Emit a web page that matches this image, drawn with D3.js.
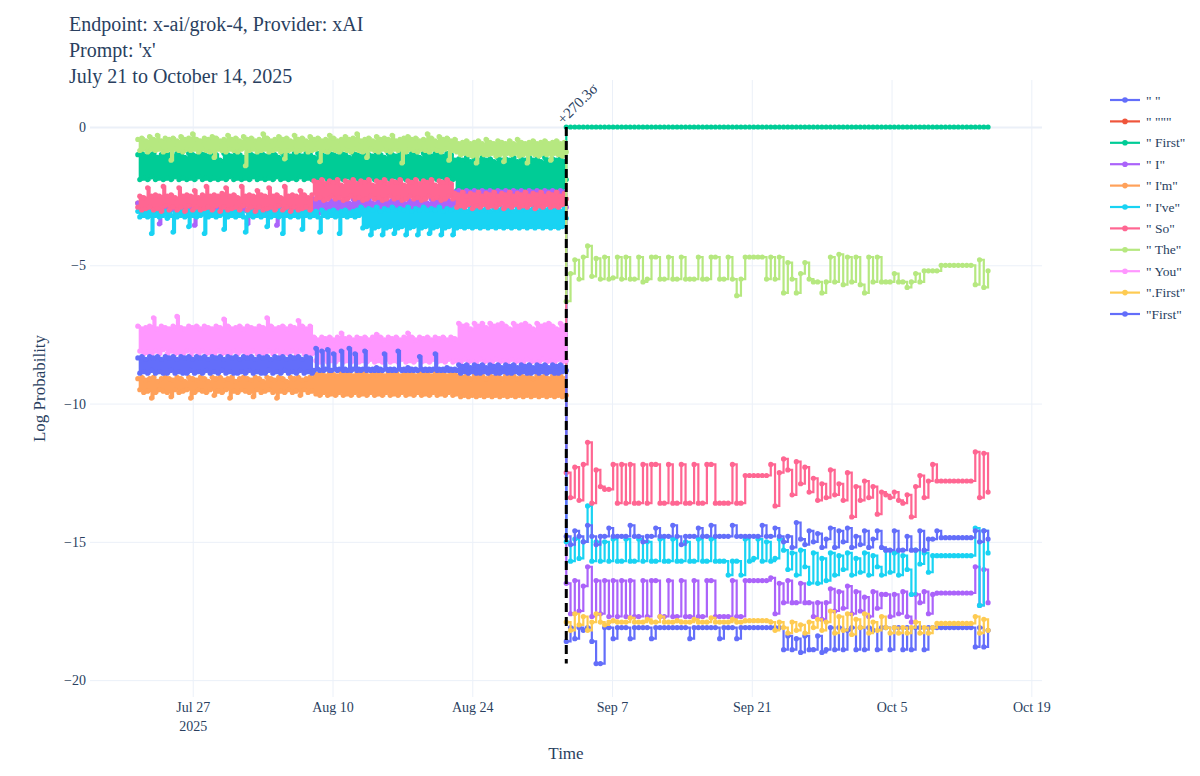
<!DOCTYPE html>
<html>
<head>
<meta charset="utf-8">
<script src="https://cdn.jsdelivr.net/npm/d3@7"></script>
<style>
  body { margin: 0; background: #fff; }
  svg { font-family: "Liberation Serif", "Times New Roman", serif; }
</style>
</head>
<body>
<svg id="viz" width="1200" height="776"></svg>
<script>
// ---------------------------
// Data
// ---------------------------

const titleLines = ["Endpoint: x-ai/grok-4, Provider: xAI", "Prompt: 'x'", "July 21 to October 14, 2025"];

const preStart = new Date("2025-07-21T12:00:00");
const changeTime = new Date("2025-09-02T10:00:00");
const postEnd = new Date("2025-10-14T16:00:00");
const preCount = 220;
const postCount = 100;

const xTickDates = ["2025-07-27", "2025-08-10", "2025-08-24", "2025-09-07", "2025-09-21", "2025-10-05", "2025-10-19"];
const yTickValues = [0, -5, -10, -15, -20];
const sigmaLabel = "+270.3σ";

const quotePre = [-2.75,-2.8,-2.75,-2.8,-2.75];

const firstSpPre = [
-1.0,-1.9,-0.95,-1.85,-1.05,-1.9,-1.0,-1.8,-0.95,-1.9,
-1.1,-1.85,-1.0,-1.9,-0.95,-1.85,-1.0,-1.9,-1.05,-1.8,
-0.95,-1.9,-1.0,-1.85,-1.1,-1.9,-0.95,-1.85,-1.0,-1.9,
-1.05,-1.8,-0.95,-1.9,-1.0,-1.85,-1.05,-1.9,-0.95,-1.85,
-1.0,-1.9,-1.2,-1.85,-0.95,-1.9,-1.0,-1.8,-1.05,-1.9,
-0.95,-1.85,-1.0,-1.9,-1.1,-1.85,-0.95,-1.9,-1.0,-1.8,
-1.05,-1.9,-0.95,-1.85,-1.0,-1.9,-1.05,-1.85,-0.95,-1.9,
-1.0,-1.8,-1.1,-1.9,-0.95,-1.85,-1.0,-1.9,-1.05,-1.85,
-0.95,-1.9,-1.0,-1.8,-1.05,-1.9,-0.95,-1.85,-1.0,-1.9,
-1.1,-1.85,-0.95,-1.9,-1.0,-1.8,-1.05,-1.9,-0.95,-1.85,
-1.0,-1.9,-1.05,-1.85,-0.95,-1.9,-1.0,-1.8,-1.1,-1.9,
-0.95,-1.85,-1.0,-1.9,-1.05,-1.85,-0.95,-1.9,-1.0,-1.8,
-1.05,-1.9,-0.95,-1.85,-1.0,-1.9,-1.1,-1.85,-0.95,-1.9,
-1.0,-1.8,-1.05,-1.9,-0.95,-1.85,-1.0,-1.9,-1.05,-1.85,
-0.95,-1.9,-1.0,-1.8,-1.1,-1.9,-0.95,-1.85,-1.0,-1.9,
-1.05,-1.85,-0.95,-1.9,-1.0,-1.8,-1.05,-1.9,-0.95,-1.85,
-1.0,-1.9,-1.2,-2.3,-1.15,-2.25,-1.2,-2.3,-1.1,-2.2,
-1.25,-2.3,-1.15,-2.25,-1.2,-2.3,-1.1,-2.25,-1.2,-2.3,
-1.15,-2.2,-1.25,-2.3,-1.1,-2.25,-1.2,-2.3,-1.15,-2.25,
-1.2,-2.3,-1.1,-2.2,-1.25,-2.3,-1.15,-2.25,-1.2,-2.3,
-1.1,-2.25,-1.2,-2.3,-1.15,-2.2,-1.25,-2.3,-1.1,-2.25,
-1.2,-2.3,-1.15,-2.25,-1.2,-2.3,-1.1,-2.2,-1.25,-1.9];
const firstSpPost = [
0,0,0,0,0,0,0,0,0,0, 0,0,0,0,0,0,0,0,0,0,
0,0,0,0,0,0,0,0,0,0, 0,0,0,0,0,0,0,0,0,0,
0,0,0,0,0,0,0,0,0,0, 0,0,0,0,0,0,0,0,0,0,
0,0,0,0,0,0,0,0,0,0, 0,0,0,0,0,0,0,0,0,0,
0,0,0,0,0,0,0,0,0,0, 0,0,0,0,0,0,0,0,0,0];

const iPre = [
-2.75,-2.8,-2.75,-2.8,-2.75,-3.0,-2.8,-3.1,-2.85,-3.0,
-2.8,-3.5,-2.9,-3.0,-2.8,-3.1,-2.9,-3.0,-2.85,-3.2,
-2.9,-3.0,-2.8,-3.1,-2.9,-3.0,-2.85,-3.1,-2.9,-3.55,
-2.95,-3.0,-2.8,-3.1,-2.9,-3.0,-2.85,-3.2,-2.9,-3.0,
-2.8,-3.1,-2.9,-3.0,-2.85,-3.1,-2.9,-3.0,-2.8,-3.1,
-2.9,-3.0,-2.85,-3.2,-2.9,-3.0,-3.5,-3.1,-2.9,-3.0,
-2.85,-3.1,-2.9,-3.0,-2.8,-3.1,-2.9,-3.0,-2.85,-3.1,
-2.9,-3.55,-2.9,-3.0,-2.8,-3.1,-2.9,-3.0,-2.85,-3.2,
-2.9,-3.0,-2.8,-3.1,-2.9,-3.0,-2.85,-3.1,-2.9,-3.0,
-2.6,-3.0,-2.7,-3.1,-2.6,-3.0,-2.75,-3.05,-2.6,-3.0,
-2.7,-3.1,-2.65,-3.0,-2.7,-3.1,-2.6,-3.0,-2.75,-3.05,
-2.6,-3.0,-2.7,-3.1,-2.65,-3.0,-2.7,-3.1,-2.6,-3.0,
-2.75,-3.05,-2.6,-3.0,-2.7,-3.1,-2.6,-3.0,-2.7,-3.1,
-2.65,-3.0,-2.7,-3.1,-2.6,-3.0,-2.75,-3.05,-2.6,-3.0,
-2.7,-3.1,-2.65,-3.0,-2.7,-3.1,-2.6,-3.0,-2.75,-3.05,
-2.6,-3.0,-2.7,-3.1,-2.65,-3.0,-2.7,-3.1,-2.6,-3.0,
-2.7,-3.1,-2.35,-2.9,-2.3,-2.85,-2.4,-2.9,-2.3,-2.8,
-2.35,-2.9,-2.3,-2.85,-2.4,-2.9,-2.3,-2.8,-2.35,-2.9,
-2.3,-2.85,-2.4,-2.9,-2.3,-2.8,-2.35,-3.4,-2.3,-2.85,
-2.4,-2.9,-2.3,-2.8,-2.35,-2.9,-2.3,-2.85,-2.4,-2.9,
-2.3,-2.8,-2.35,-2.9,-2.3,-2.85,-2.4,-3.35,-2.3,-2.8,
-2.35,-2.9,-2.3,-2.85,-2.4,-2.9,-2.3,-2.8,-2.35,-2.9];
const iPost = [
-16.5,-17.6,-16.4,-17.5,-16.6,-15.9,-17.7,-16.4,
-17.6,-16.4,-17.7,-16.4,-17.7,
-16.4,-17.7,-16.4,-17.7,-17.7,-16.4,-17.7,-16.4,-16.4,-17.7,
-17.7,-16.4,-17.7,-17.7,-16.4,-17.7,-17.7,-16.4,-17.7,-17.7,
-16.4,-16.4,-17.7,-17.7,-17.7,-17.7,-16.4,-17.7,-17.7,
-16.4,-16.4,-16.4,-16.4,-16.4,-16.4,-16.3,-17.6,-16.5,
-17.2,-16.4,-17.2,-17.2,-16.5,-17.2,-17.2,-17.7,-17.2,-17.8,-17.2,
-16.7,-17.5,-16.8,-17.4,-16.6,-17.6,-16.8,-17.5,-17.0,-17.7,-16.8,-17.4,-16.9,
-16.9,-17.7,-16.9,-17.6,-16.8,-17.7,-17.9,-16.9,-17.2,-16.8,-17.6,-16.9,-16.85,
-16.85,-16.85,-16.85,-16.85,-16.85,-16.85,-16.85,-16.85,
-15.9,-17.3,-16.0,-17.2];

const imPre = [
-9.1,-9.5,-9.05,-9.6,-9.15,-9.55,-9.1,-9.8,-9.05,-9.6,
-9.2,-9.5,-9.1,-9.55,-9.05,-9.6,-9.1,-9.75,-9.15,-9.5,
-9.05,-9.6,-9.1,-9.55,-9.2,-9.5,-9.05,-9.8,-9.1,-9.6,
-9.15,-9.5,-9.05,-9.55,-9.1,-9.6,-9.2,-9.5,-9.05,-9.7,
-9.1,-9.55,-9.05,-9.6,-9.15,-9.5,-9.1,-9.8,-9.05,-9.55,
-9.2,-9.6,-9.1,-9.5,-9.05,-9.55,-9.1,-9.6,-9.15,-9.75,
-9.05,-9.5,-9.1,-9.6,-9.2,-9.55,-9.05,-9.5,-9.1,-9.6,
-9.15,-9.8,-9.05,-9.55,-9.1,-9.6,-9.2,-9.5,-9.05,-9.6,
-9.1,-9.55,-9.05,-9.7,-9.15,-9.5,-9.1,-9.6,-9.05,-9.55,
-8.9,-9.65,-8.95,-9.7,-8.9,-9.6,-9.0,-9.7,-8.9,-9.65,
-8.95,-9.7,-9.0,-9.6,-8.9,-9.7,-8.95,-9.65,-8.9,-9.7,
-9.0,-9.6,-8.9,-9.7,-8.95,-9.65,-8.9,-9.7,-9.0,-9.6,
-8.9,-9.7,-8.95,-9.65,-8.9,-9.7,-9.0,-9.6,-8.9,-9.7,
-8.95,-9.65,-8.9,-9.7,-9.0,-9.6,-8.9,-9.7,-8.95,-9.65,
-8.9,-9.7,-9.0,-9.6,-8.9,-9.7,-8.95,-9.65,-8.9,-9.7,
-9.0,-9.6,-8.9,-9.7,-8.95,-9.65,-8.9,-9.7,-9.0,-9.6,
-8.9,-9.7,-8.95,-9.65,-9.0,-9.75,-9.05,-9.7,-9.0,-9.75,
-9.1,-9.7,-9.0,-9.75,-9.05,-9.7,-9.0,-9.75,-9.1,-9.7,
-9.0,-9.75,-9.05,-9.7,-9.0,-9.75,-9.1,-9.7,-9.0,-9.75,
-9.05,-9.7,-9.0,-9.75,-9.1,-9.7,-9.0,-9.75,-9.05,-9.7,
-9.0,-9.75,-9.1,-9.7,-9.0,-9.75,-9.05,-9.7,-9.0,-9.75,
-9.1,-9.7,-9.0,-9.75,-9.05,-9.7,-9.0,-9.75,-9.1,-9.7];

const ivePre = [
-3.05,-3.25,-3.0,-3.2,-3.1,-3.25,-3.0,-3.85,-3.05,-3.2,
-3.0,-3.25,-3.1,-3.2,-3.05,-3.3,-3.0,-3.2,-3.8,-3.1,
-3.25,-3.0,-3.2,-3.05,-3.25,-3.0,-3.6,-3.1,-3.2,-3.05,
-3.25,-3.0,-3.2,-3.1,-3.85,-3.05,-3.25,-3.0,-3.2,-3.1,
-3.25,-3.05,-3.2,-3.0,-3.7,-3.1,-3.25,-3.0,-3.2,-3.05,
-3.25,-3.0,-3.2,-3.1,-3.25,-3.8,-3.05,-3.2,-3.0,-3.25,
-3.1,-3.2,-3.05,-3.25,-3.0,-3.2,-3.6,-3.1,-3.25,-3.0,
-3.2,-3.05,-3.25,-3.0,-3.85,-3.1,-3.2,-3.05,-3.25,-3.0,
-3.2,-3.1,-3.25,-3.0,-3.7,-3.05,-3.2,-3.0,-3.25,-3.1,
-3.2,-3.05,-3.25,-3.8,-3.0,-3.2,-3.1,-3.25,-3.05,-3.2,
-3.0,-3.25,-3.1,-3.85,-3.05,-3.2,-3.0,-3.25,-3.1,-3.2,
-3.05,-3.25,-3.0,-3.2,-2.9,-3.65,-3.0,-3.6,-2.95,-3.9,
-3.0,-3.65,-2.9,-3.6,-3.05,-3.9,-2.95,-3.65,-3.0,-3.6,
-2.9,-3.85,-3.0,-3.65,-2.95,-3.6,-3.0,-3.9,-2.9,-3.65,
-3.05,-3.6,-2.95,-3.9,-3.0,-3.65,-2.9,-3.6,-3.0,-3.85,
-2.95,-3.65,-3.0,-3.6,-2.9,-3.9,-3.05,-3.65,-2.95,-3.6,
-3.0,-3.9,-2.95,-3.65,-3.0,-3.6,-2.95,-3.65,-3.05,-3.6,
-2.95,-3.65,-3.0,-3.6,-2.95,-3.65,-3.0,-3.6,-2.95,-3.65,
-3.05,-3.6,-2.95,-3.65,-3.0,-3.6,-2.95,-3.65,-3.0,-3.6,
-2.95,-3.65,-3.05,-3.6,-2.95,-3.65,-3.0,-3.6,-2.95,-3.65,
-3.0,-3.6,-2.95,-3.65,-3.05,-3.6,-2.95,-3.65,-3.0,-3.6,
-2.95,-3.65,-3.0,-3.6,-2.95,-3.65,-3.05,-3.6,-2.95,-3.3];
const ivePost = [
-15.0,-15.7,-14.9,-15.6,-15.0,-13.7,-15.7,-15.0,
-15.7,-15.0,-15.7,-14.9,-15.7,
-15.7,-14.9,-15.7,-15.7,-14.9,-15.7,-15.0,-15.7,-15.7,-14.9,
-15.7,-15.7,-14.9,-15.7,-15.7,-15.0,-15.7,-15.7,-14.9,-15.7,
-15.7,-14.9,-15.7,-15.7,-15.7,-16.2,-15.7,-15.7,-16.2,
-14.9,-15.7,-15.6,-14.9,-15.7,-15.0,-15.7,-15.6,-14.9,
-15.3,-16.0,-15.4,-16.2,-15.3,-15.9,-16.5,-15.4,-16.5,-15.6,-16.4,
-15.4,-16.2,-15.5,-16.0,-15.4,-16.2,-15.6,-16.1,-15.4,-16.2,-15.5,-15.9,-16.2,
-15.3,-16.1,-15.4,-16.2,-15.5,-16.0,-16.9,-15.3,-15.8,-15.4,-16.1,-15.5,-15.5,
-15.5,-15.5,-15.5,-15.5,-15.5,-15.5,-15.5,-15.5,
-14.5,-17.3,-14.6,-15.4];

const soPre = [
-2.9,-2.5,-3.0,-2.55,-2.95,-2.2,-2.9,-2.5,-3.0,-2.45,
-2.95,-2.5,-3.05,-2.15,-2.85,-2.5,-3.0,-2.45,-2.9,-2.55,
-3.0,-2.2,-2.9,-2.5,-3.05,-2.45,-2.85,-2.5,-3.0,-2.3,
-2.9,-2.55,-3.0,-2.45,-2.95,-2.15,-2.9,-2.5,-3.0,-2.45,
-2.85,-2.5,-3.05,-2.4,-2.9,-2.2,-3.0,-2.5,-2.95,-2.45,
-2.9,-2.55,-3.0,-2.15,-2.85,-2.5,-3.0,-2.45,-2.9,-2.5,
-3.05,-2.3,-2.9,-2.45,-3.0,-2.5,-2.95,-2.2,-2.9,-2.5,
-3.0,-2.45,-2.85,-2.55,-3.0,-2.15,-2.9,-2.5,-3.05,-2.45,
-2.9,-2.5,-3.0,-2.3,-2.95,-2.45,-2.9,-2.55,-3.0,-2.45,
-1.95,-2.6,-2.0,-2.55,-1.9,-2.65,-2.05,-2.6,-1.95,-2.5,
-2.0,-2.6,-1.9,-2.55,-2.1,-2.65,-1.95,-2.6,-2.0,-2.5,
-1.9,-2.6,-2.05,-2.55,-1.95,-2.65,-2.0,-2.6,-1.9,-2.5,
-2.1,-2.6,-1.95,-2.55,-2.0,-2.65,-1.9,-2.6,-2.05,-2.5,
-1.95,-2.6,-2.0,-2.55,-1.9,-2.65,-2.1,-2.6,-1.95,-2.5,
-2.0,-2.6,-1.9,-2.55,-2.05,-2.65,-1.95,-2.6,-2.0,-2.5,
-1.9,-2.6,-2.1,-2.55,-1.95,-2.65,-2.0,-2.6,-1.9,-2.5,
-2.05,-2.6,-2.4,-2.9,-2.45,-2.85,-2.35,-2.9,-2.5,-2.8,
-2.4,-2.95,-2.45,-2.85,-2.35,-2.9,-2.5,-2.8,-2.4,-2.9,
-2.45,-2.85,-2.35,-2.9,-2.5,-2.8,-2.4,-2.95,-2.45,-2.85,
-2.35,-2.9,-2.5,-2.8,-2.4,-2.9,-2.45,-2.85,-2.35,-2.9,
-2.5,-2.8,-2.4,-2.95,-2.45,-2.85,-2.35,-2.9,-2.5,-2.8,
-2.4,-2.9,-2.45,-2.85,-2.35,-2.9,-2.5,-2.8,-2.4,-2.6];
const soPost = [
-12.5,-13.4,-12.3,-13.5,-12.2,-11.4,-13.6,-12.4,
-13.0,-13.1,-13.1,-12.2,-13.6,
-12.2,-13.6,-12.2,-13.6,-13.6,-12.2,-13.6,-12.2,-12.2,-13.6,
-13.6,-12.2,-13.6,-13.6,-12.2,-13.6,-13.6,-12.2,-13.6,-13.6,
-12.2,-12.2,-13.6,-13.6,-13.6,-13.6,-12.2,-13.6,-13.6,
-12.6,-12.6,-12.6,-12.6,-12.6,-12.6,-12.2,-13.7,-12.5,
-12.0,-12.4,-13.3,-12.1,-12.9,-12.3,-13.2,-12.7,-13.5,-12.9,-13.4,
-12.4,-13.3,-12.9,-13.5,-12.5,-14.1,-13.0,-13.5,-12.8,-13.4,-13.0,-14.0,-13.2,
-13.3,-13.4,-13.2,-13.5,-13.6,-13.3,-14.1,-13.0,-12.6,-13.4,-12.8,-12.2,-12.8,
-12.8,-12.8,-12.8,-12.8,-12.8,-12.8,-12.8,-12.8,
-11.75,-13.4,-11.8,-13.2];

const thePre = [
-0.45,-0.85,-0.4,-0.8,-0.5,-0.9,-0.35,-0.8,-0.45,-0.85,
-0.3,-0.8,-0.5,-0.9,-0.4,-0.85,-0.45,-1.2,-0.4,-0.8,
-0.5,-0.85,-0.35,-0.9,-0.45,-0.8,-0.4,-0.85,-0.25,-0.8,
-0.45,-0.9,-0.5,-0.8,-0.4,-0.85,-0.45,-0.9,-0.35,-1.1,
-0.4,-0.8,-0.5,-0.85,-0.45,-0.9,-0.3,-0.8,-0.45,-0.85,
-0.4,-0.9,-0.5,-0.8,-0.35,-1.4,-0.45,-0.85,-0.4,-0.8,
-0.5,-0.9,-0.45,-0.85,-0.25,-0.8,-0.4,-0.9,-0.5,-0.85,
-0.45,-0.8,-0.35,-0.9,-0.45,-1.15,-0.4,-0.85,-0.5,-0.8,
-0.3,-0.9,-0.45,-0.85,-0.4,-0.8,-0.5,-0.9,-0.35,-0.85,
-0.45,-0.8,-0.4,-1.25,-0.5,-0.85,-0.45,-0.9,-0.3,-0.8,
-0.4,-0.85,-0.5,-0.9,-0.45,-0.8,-0.35,-0.85,-0.45,-0.9,
-0.4,-0.8,-0.25,-0.85,-0.5,-0.9,-0.45,-1.1,-0.4,-0.8,
-0.5,-0.85,-0.35,-0.9,-0.45,-0.8,-0.4,-0.85,-0.45,-0.9,
-0.3,-0.8,-0.5,-0.85,-0.45,-1.3,-0.4,-0.9,-0.35,-0.8,
-0.45,-0.85,-0.4,-0.9,-0.5,-0.8,-0.45,-0.85,-0.25,-0.9,
-0.4,-0.8,-0.5,-0.85,-0.35,-0.9,-0.45,-0.8,-0.4,-1.2,
-0.5,-0.85,-0.45,-0.9,-0.6,-1.0,-0.55,-0.95,-0.5,-1.0,
-0.6,-1.05,-0.55,-1.3,-0.5,-0.95,-0.6,-1.0,-0.45,-1.0,
-0.55,-0.95,-0.6,-1.05,-0.5,-1.0,-0.55,-1.25,-0.6,-0.95,
-0.5,-1.0,-0.6,-0.95,-0.45,-1.05,-0.55,-1.0,-0.6,-1.3,
-0.55,-0.95,-0.5,-1.0,-0.6,-1.05,-0.55,-0.95,-0.5,-1.0,
-0.6,-1.2,-0.55,-0.95,-0.5,-1.0,-0.6,-1.05,-0.55,-0.9];
const thePost = [
-6.3,-5.3,-4.8,-5.5,-4.7,-4.3,-5.4,-4.75,
-5.5,-4.7,-5.5,-5.45,-4.7,
-5.5,-4.7,-5.5,-5.5,-4.7,-5.6,-5.5,-4.7,-4.7,-5.5,
-5.5,-4.7,-5.5,-5.5,-4.7,-5.5,-5.5,-5.5,-4.7,-5.5,
-5.5,-4.7,-4.7,-5.5,-5.5,-4.7,-5.5,-6.1,-5.5,
-4.7,-4.7,-4.7,-4.7,-4.7,-5.5,-4.7,-5.5,-4.7,
-6.0,-4.9,-5.5,-6.0,-5.3,-4.9,-5.5,-5.6,-5.6,-6.0,-5.6,
-4.7,-5.6,-4.6,-5.7,-4.7,-5.6,-4.7,-5.7,-6.0,-4.7,-5.6,-4.7,-5.6,
-5.6,-5.6,-5.3,-5.6,-5.6,-5.8,-5.6,-5.3,-5.6,-5.2,-5.2,-5.2,-5.2,
-5.0,-5.0,-5.0,-5.0,-5.0,-5.0,-5.0,-5.0,
-5.7,-4.8,-5.8,-5.2];

const youPre = [
-7.2,-8.1,-7.3,-8.2,-7.25,-8.15,-7.2,-8.2,-6.9,-8.1,
-7.3,-8.2,-7.2,-8.05,-7.25,-8.2,-7.3,-8.1,-7.2,-8.2,
-6.85,-8.15,-7.25,-8.2,-7.3,-8.1,-7.2,-8.25,-7.25,-8.1,
-7.2,-8.2,-7.3,-8.1,-7.2,-8.2,-7.25,-8.15,-7.3,-8.2,
-7.2,-8.1,-7.25,-8.2,-6.95,-8.15,-7.2,-8.2,-7.3,-8.1,
-7.25,-8.2,-7.2,-8.1,-7.3,-8.2,-7.2,-8.25,-7.25,-8.1,
-7.3,-8.2,-7.2,-8.15,-7.25,-8.2,-6.9,-8.1,-7.2,-8.2,
-7.3,-8.1,-7.25,-8.2,-7.2,-8.15,-7.3,-8.2,-7.2,-8.1,
-7.25,-8.2,-7.0,-8.1,-7.2,-8.2,-7.3,-8.15,-7.2,-8.2,
-7.6,-8.45,-7.7,-8.5,-7.6,-8.4,-7.65,-8.5,-7.6,-8.45,
-7.7,-8.5,-7.6,-8.4,-7.45,-8.5,-7.65,-8.45,-7.6,-8.5,
-7.7,-8.4,-7.6,-8.5,-7.65,-8.45,-7.6,-8.5,-7.7,-8.4,
-7.6,-8.5,-7.5,-8.45,-7.6,-8.5,-7.7,-8.4,-7.6,-8.5,
-7.65,-8.45,-7.6,-8.5,-7.7,-8.4,-7.6,-8.5,-7.45,-8.45,
-7.6,-8.5,-7.7,-8.4,-7.6,-8.5,-7.65,-8.45,-7.6,-8.5,
-7.7,-8.4,-7.6,-8.5,-7.65,-8.45,-7.6,-8.5,-7.7,-8.4,
-7.6,-8.5,-7.65,-8.45,-7.1,-8.5,-7.2,-8.4,-7.15,-8.5,
-7.3,-8.45,-7.1,-8.5,-7.2,-8.4,-7.1,-8.5,-7.25,-8.45,
-7.1,-8.5,-7.2,-8.4,-7.15,-8.5,-7.1,-8.45,-7.2,-8.5,
-7.3,-8.4,-7.1,-8.5,-7.2,-8.45,-7.15,-8.5,-7.1,-8.4,
-7.2,-8.5,-7.3,-8.45,-7.1,-8.5,-7.2,-8.4,-7.15,-8.5,
-7.1,-8.45,-7.2,-8.5,-7.3,-8.4,-7.1,-8.5,-7.2,-8.45];

const dotFirstPost = [
-17.9,-18.2,-17.6,-18.0,-17.7,-18.2,-17.9,-17.6,
-17.9,-18.0,-17.9,-17.85,-17.9,
-17.9,-17.9,-17.75,-17.9,-17.9,-17.9,-17.8,-17.9,-17.9,-17.7,
-17.9,-17.9,-17.9,-17.85,-17.9,-17.9,-17.9,-17.8,-17.9,-17.9,
-17.9,-17.75,-17.9,-17.9,-17.9,-17.9,-17.8,-17.9,-17.9,
-17.85,-17.85,-17.85,-17.85,-17.85,-17.85,-17.9,-18.2,-17.9,
-18.1,-18.3,-17.9,-18.2,-18.0,-18.3,-17.9,-18.1,-17.8,-18.2,-17.9,
-17.5,-18.3,-17.7,-18.2,-17.6,-18.35,-17.8,-18.1,-17.6,-18.3,-17.9,-18.2,-17.7,
-18.1,-18.3,-18.1,-18.3,-18.1,-18.3,-18.1,-17.9,-18.3,-18.1,-18.3,-18.1,-17.95,
-17.95,-17.95,-17.95,-17.95,-17.95,-17.95,-17.95,-17.95,
-17.7,-18.3,-17.8,-18.2];

const spacePost = [
-18.6,-18.1,-18.5,-18.1,-18.2,-18.1,-18.6,-19.4,
-19.4,-18.1,-18.1,-18.5,-18.1,
-18.1,-18.1,-18.5,-18.1,-18.1,-18.1,-18.1,-18.5,-18.1,-18.1,
-18.1,-18.1,-18.1,-18.1,-18.1,-18.1,-18.5,-18.1,-18.1,-18.1,
-18.1,-18.1,-18.1,-18.5,-18.1,-18.1,-18.1,-18.5,-18.1,
-18.1,-18.1,-18.1,-18.1,-18.1,-18.1,-18.1,-18.1,-18.1,
-18.9,-18.4,-18.9,-18.5,-19.0,-18.4,-18.9,-18.9,-18.4,-19.0,-18.9,
-18.1,-18.9,-18.1,-18.9,-18.2,-18.1,-18.9,-18.1,-18.9,-18.1,-18.2,-18.9,-18.1,
-18.1,-18.9,-18.1,-18.1,-18.9,-18.1,-18.9,-18.1,-18.1,-18.9,-18.1,-18.1,-18.1,
-18.1,-18.1,-18.1,-18.1,-18.1,-18.1,-18.1,-18.1,
-18.8,-18.1,-18.8,-18.2];

const firstPre = [
-8.35,-8.9,-8.3,-8.85,-8.4,-8.9,-8.3,-8.8,-8.35,-8.9,
-8.3,-8.85,-8.4,-8.9,-8.3,-8.9,-8.35,-8.8,-8.3,-8.9,
-8.4,-8.85,-8.3,-8.9,-8.35,-8.9,-8.3,-8.8,-8.4,-8.9,
-8.3,-8.85,-8.35,-8.9,-8.3,-8.8,-8.4,-8.9,-8.3,-8.85,
-8.35,-8.9,-8.3,-8.8,-8.4,-8.9,-8.3,-8.85,-8.35,-8.9,
-8.3,-8.9,-8.4,-8.85,-8.3,-8.9,-8.35,-8.8,-8.3,-8.9,
-8.4,-8.85,-8.3,-8.9,-8.35,-8.9,-8.3,-8.8,-8.4,-8.9,
-8.3,-8.85,-8.35,-8.9,-8.3,-8.8,-8.4,-8.9,-8.3,-8.85,
-8.35,-8.9,-8.3,-8.8,-8.4,-8.9,-8.3,-8.85,-8.35,-8.9,
-8.8,-8.0,-8.75,-8.8,-8.1,-8.8,-8.75,-8.05,-8.8,-8.8,
-8.2,-8.75,-8.8,-8.75,-8.1,-8.8,-8.75,-8.8,-8.0,-8.8,
-8.75,-8.2,-8.8,-8.75,-8.8,-8.75,-8.1,-8.8,-8.75,-8.8,
-8.75,-8.8,-8.7,-8.8,-8.75,-8.8,-8.2,-8.75,-8.8,-8.75,
-8.8,-8.75,-8.8,-8.1,-8.75,-8.8,-8.75,-8.8,-8.7,-8.8,
-8.75,-8.8,-8.75,-8.8,-8.3,-8.75,-8.8,-8.75,-8.8,-8.75,
-8.8,-8.75,-8.2,-8.8,-8.75,-8.8,-8.75,-8.8,-8.7,-8.8,
-8.75,-8.8,-8.75,-8.8,-8.6,-8.9,-8.65,-8.85,-8.6,-8.9,
-8.7,-8.85,-8.6,-8.9,-8.65,-8.9,-8.6,-8.85,-8.7,-8.9,
-8.6,-8.85,-8.65,-8.9,-8.6,-8.9,-8.7,-8.85,-8.6,-8.9,
-8.65,-8.9,-8.6,-8.85,-8.7,-8.9,-8.6,-8.85,-8.65,-8.9,
-8.6,-8.9,-8.7,-8.85,-8.6,-8.9,-8.65,-8.85,-8.6,-8.9,
-8.7,-8.85,-8.6,-8.9,-8.65,-8.9,-8.6,-8.85,-8.7,-8.8];
const firstPost = [
-14.8,-15.1,-14.6,-14.8,-15.0,-14.4,-14.8,-15.1,
-14.8,-14.8,-14.5,-14.8,-14.8,
-14.8,-14.8,-14.4,-14.8,-14.8,-15.0,-14.8,-14.8,-14.5,-14.8,
-14.8,-14.8,-14.4,-14.8,-15.1,-14.8,-14.8,-14.8,-14.5,-14.8,
-14.8,-14.4,-14.8,-14.8,-14.8,-14.8,-14.4,-14.8,-14.8,
-14.8,-14.8,-14.8,-14.8,-14.4,-14.8,-14.8,-14.5,-14.8,
-15.0,-14.8,-15.2,-14.3,-14.9,-15.1,-14.6,-15.0,-14.7,-15.2,-14.9,
-14.5,-15.2,-14.6,-15.0,-14.5,-15.2,-14.8,-15.1,-14.6,-15.2,-14.9,-14.6,-15.2,
-15.3,-15.3,-14.6,-15.3,-15.3,-14.8,-15.3,-15.3,-14.6,-15.3,-14.9,-14.9,-14.6,
-14.85,-14.85,-14.85,-14.85,-14.85,-14.85,-14.85,-14.85,
-14.6,-15.0,-14.6,-14.9];

// trace order as in the legend
const seriesNames = ['" "', '" """', '" First"', '" I"', '" I\'m"', '" I\'ve"', '" So"', '" The"', '" You"', '".First"', '"First"'];
const seriesColors = ["#636efa", "#EF553B", "#00cc96", "#ab63fa", "#FFA15A", "#19d3f3", "#FF6692", "#B6E880", "#FF97FF", "#FECB52", "#636efa"];
const seriesPre = [[], quotePre, firstSpPre, iPre, imPre, ivePre, soPre, thePre, youPre, [], firstPre];
const seriesPost = [spacePost, [], firstSpPost, iPost, [], ivePost, soPost, thePost, [], dotFirstPost, firstPost];

// ---------------------------
// Create SVG
// ---------------------------

const svg = d3.select("#viz");

const width = 1200;
const height = 776;
const margin = {top: 80, right: 158, bottom: 79, left: 90};
const plotW = width - margin.left - margin.right;
const plotH = height - margin.top - margin.bottom;
const textColor = "#2a3f5f";
const gridColor = "#ebf0f8";

// sample times: evenly spaced within each segment
const preTimes = d3.range(preCount).map(i => new Date(+preStart + i * (changeTime - preStart) / (preCount - 1)));
const postTimes = d3.range(postCount).map(i => new Date(+changeTime + i * (postEnd - changeTime) / (postCount - 1)));

const series = seriesNames.map((name, k) => ({
    name,
    color: seriesColors[k],
    points: seriesPre[k].map((v, i) => ({t: preTimes[i], v}))
        .concat(seriesPost[k].map((v, i) => ({t: postTimes[i], v})))
}));

const x = d3.scaleTime()
    .domain([new Date("2025-07-16T17:00:00"), new Date("2025-10-20T01:40:00")])
    .range([margin.left, margin.left + plotW]);

const y = d3.scaleLinear()
    .domain([-20.61, 1.70])
    .range([margin.top + plotH, margin.top]);

// ---------------------------
// Grid & axes
// ---------------------------

const yAxis = svg.append("g")
    .attr("transform", `translate(${margin.left},0)`)
    .call(d3.axisLeft(y).tickValues(yTickValues).tickSize(-plotW).tickPadding(4).tickFormat(d3.format("d")));

yAxis.select(".domain").remove();
yAxis.selectAll("line").attr("stroke", gridColor).attr("stroke-width", d => d === 0 ? 2 : 1);
yAxis.selectAll("text").attr("fill", textColor).style("font-size", "14px").style("font-family", "Liberation Serif, serif");

const xAxis = svg.append("g")
    .attr("transform", `translate(0,${margin.top + plotH})`)
    .call(d3.axisBottom(x).tickValues(xTickDates.map(d => new Date(d + "T00:00:00"))).tickSize(-plotH).tickPadding(5).tickFormat(d3.timeFormat("%b %-d")));

xAxis.select(".domain").remove();
xAxis.selectAll("line").attr("stroke", gridColor).attr("stroke-width", 1);
xAxis.selectAll("text").attr("fill", textColor).style("font-size", "14px").style("font-family", "Liberation Serif, serif");

xAxis.selectAll(".tick text")
    .filter((d, i) => i === 0)
    .append("tspan")
    .attr("x", 0)
    .attr("dy", "1.35em")
    .text(d => d3.timeFormat("%Y")(d));

// axis titles
svg.append("text")
    .attr("x", margin.left + plotW / 2)
    .attr("y", 759)
    .attr("text-anchor", "middle")
    .attr("fill", textColor)
    .style("font-size", "17px")
    .text("Time");

svg.append("text")
    .attr("transform", `translate(45,${margin.top + plotH / 2}) rotate(-90)`)
    .attr("text-anchor", "middle")
    .attr("fill", textColor)
    .style("font-size", "17px")
    .text("Log Probability");

// ---------------------------
// Traces
// ---------------------------

const line = d3.line()
    .x(d => x(d.t))
    .y(d => y(d.v))
    .curve(d3.curveStepAfter);

const traces = svg.append("g")
    .selectAll("g")
    .data(series)
    .join("g");

traces.append("path")
    .attr("d", d => line(d.points))
    .attr("fill", "none")
    .attr("stroke", d => d.color)
    .attr("stroke-width", 2.2);

traces.selectAll("circle")
    .data(d => d.points.map(p => ({...p, color: d.color})))
    .join("circle")
    .attr("cx", d => x(d.t))
    .attr("cy", d => y(d.v))
    .attr("r", 2.6)
    .attr("fill", d => d.color);

// ---------------------------
// Change point marker
// ---------------------------

const allValues = series.flatMap(s => s.points.map(p => p.v));

svg.append("line")
    .attr("x1", x(changeTime))
    .attr("x2", x(changeTime))
    .attr("y1", y(d3.max(allValues)))
    .attr("y2", y(d3.min(allValues)))
    .attr("stroke", "#000")
    .attr("stroke-width", 3)
    .attr("stroke-dasharray", "9,5");

svg.append("text")
    .attr("transform", `translate(${x(changeTime) - 3},${y(0) - 2}) rotate(-45)`)
    .attr("fill", textColor)
    .style("font-size", "15px")
    .text(sigmaLabel);

// ---------------------------
// Title
// ---------------------------

svg.append("g")
    .selectAll("text")
    .data(titleLines)
    .join("text")
    .attr("x", 69)
    .attr("y", (d, i) => 31 + i * 25.8)
    .attr("fill", textColor)
    .style("font-size", "20px")
    .text(d => d);

// ---------------------------
// Legend
// ---------------------------

const legend = svg.append("g")
    .selectAll("g")
    .data(series)
    .join("g")
    .attr("transform", (d, i) => `translate(1110,${100 + i * 21.4})`);

legend.append("line")
    .attr("x1", 0)
    .attr("x2", 30)
    .attr("stroke", d => d.color)
    .attr("stroke-width", 2.2);

legend.append("circle")
    .attr("cx", 15)
    .attr("r", 2.8)
    .attr("fill", d => d.color);

legend.append("text")
    .attr("x", 36)
    .attr("y", 4.5)
    .attr("fill", textColor)
    .style("font-size", "13.5px")
    .text(d => d.name);
</script>
</body>
</html>
